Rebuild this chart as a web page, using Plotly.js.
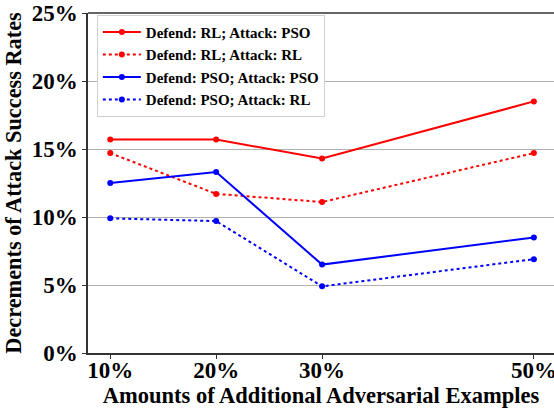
<!DOCTYPE html>
<html><head><meta charset="utf-8">
<script src="https://cdn.plot.ly/plotly-3.0.1.min.js"></script>
<style>body{margin:0;padding:0;overflow:hidden;}#c{width:554px;height:409px;}</style>
</head><body><div id="c"></div>
<script>
const amounts = [10, 20, 30, 50];
const tickLabels = ['10%', '20%', '30%', '50%'];
const rlVsPso = [15.7, 15.7, 14.3, 18.5];
const rlVsRl = [14.7, 11.7, 11.1, 14.7];
const psoVsPso = [12.5, 13.3, 6.5, 8.5];
const psoVsRl = [9.9, 9.7, 4.9, 6.9];
const names = ['Defend: RL; Attack: PSO','Defend: RL; Attack: RL','Defend: PSO; Attack: PSO','Defend: PSO; Attack: RL'];

function tr(y, name, color, dash){
  return {x: amounts, y: y, name: name, type:'scatter', mode:'lines+markers',
    line:{color:color, width:2, dash:dash}, marker:{color:color, size:6}};
}
const data = [
  tr(rlVsPso, names[0], '#ff0000', 'solid'),
  tr(rlVsRl, names[1], '#ff0000', 'dot'),
  tr(psoVsPso, names[2], '#0000ff', 'solid'),
  tr(psoVsRl, names[3], '#0000ff', 'dot')
];
const font = {family:'"Liberation Serif", "Times New Roman", serif', color:'#000'};
const layout = {
  width:554, height:409,
  margin:{l:88, r:0, t:13, b:56},
  paper_bgcolor:'#fff', plot_bgcolor:'#fff',
  font: font,
  showlegend:true,
  legend:{x:0.019, y:0.995, xanchor:'left', yanchor:'top', bgcolor:'#fff', bordercolor:'#d0d0d0', borderwidth:1,
    itemwidth:38,
    font:{family:font.family, size:15, color:'#000', weight:'bold'}, tracegroupgap:0},
  xaxis:{range:[7.9, 51.9], tickvals:amounts, ticktext:tickLabels, showgrid:false, zeroline:false,
    showline:true, linecolor:'#333', linewidth:1.5, ticks:'outside', ticklen:4, tickcolor:'#333',
    ticklabeloverflow:'allow', ticklabelstandoff:-8,
    tickfont:{family:font.family, size:23, weight:'bold'}, mirror:false,
    title:{text:'Amounts of Additional Adversarial Examples', font:{family:font.family, size:22.5, weight:'bold'}, standoff:0}},
  yaxis:{range:[0,25], tickvals:[0,5,10,15,20,25], ticktext:['0%','5%','10%','15%','20%','25%'],
    showgrid:true, gridcolor:'#b0b0b0', gridwidth:1, zeroline:false,
    showline:true, linecolor:'#333', linewidth:1.5, ticks:'outside', ticklen:4, tickcolor:'#333',
    tickfont:{family:font.family, size:23, weight:'bold'},
    title:{text:'Decrements of Attack Success Rates', font:{family:font.family, size:22.3, weight:'bold'}, standoff:4}},
  shapes:[{type:'line', xref:'paper', yref:'paper', x0:0, x1:1, y0:1, y1:1, line:{color:'#333', width:1.5}}]
};
Plotly.newPlot('c', data, layout, {displayModeBar:false});
</script></body></html>
